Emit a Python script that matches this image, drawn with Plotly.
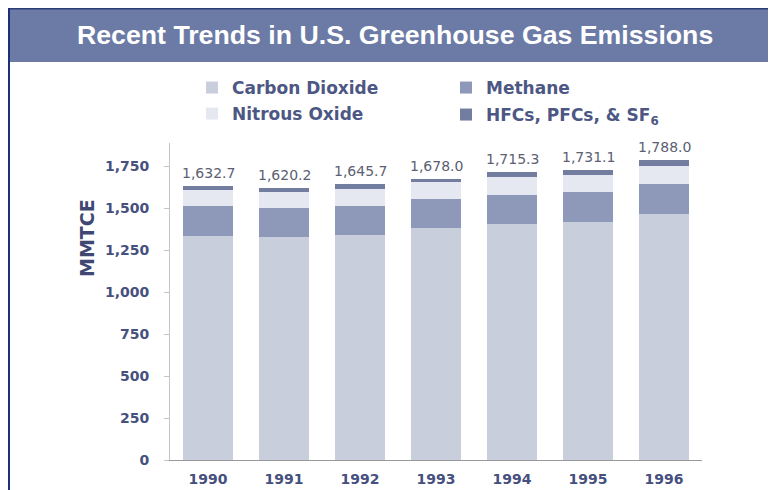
import plotly.graph_objects as go

years = ["1990", "1991", "1992", "1993", "1994", "1995", "1996"]
co2 = [1338, 1327, 1340, 1385, 1408, 1420, 1468]
methane = [174, 175, 174, 170, 170, 175, 176]
nitrous = [96, 96, 100, 101, 107, 103, 108]
hfcs = [24.7, 22.2, 31.7, 22.0, 30.3, 33.1, 36.0]
totals = [1632.7, 1620.2, 1645.7, 1678.0, 1715.3, 1731.1, 1788.0]
total_labels = ["1,632.7", "1,620.2", "1,645.7", "1,678.0", "1,715.3", "1,731.1", "1,788.0"]
y_ticks = [0, 250, 500, 750, 1000, 1250, 1500, 1750]

# page has an 8px body margin: work in screen pixels, convert to figure pixels
OFF = 8
W, H = 776 - OFF, 490 - OFF
L, R, T, B = 170 - OFF, 776 - 702, 143 - OFF, 490 - 460
PW, PH = W - L - R, H - T - B


def px(x):
    return (x - OFF - L) / PW


def py(y):
    return (H - B - (y - OFF)) / PH


legend_font = dict(family="DejaVu Sans", size=17, color="#4d5784", weight="bold")

specs = [
    (co2, "Carbon Dioxide", "#c9cedd", "legend"),
    (methane, "Methane", "#8e98b9", "legend2"),
    (nitrous, "Nitrous Oxide", "#e6e8f1", "legend3"),
    (hfcs, "HFCs, PFCs, &amp; SF<sub>6</sub>", "#737d9f", "legend4"),
]

fig = go.Figure()
for vals, name, col, lg in specs:
    fig.add_trace(go.Bar(x=years, y=vals, name=name, marker_color=col,
                         marker_line_width=0, legend=lg, showlegend=True))

# category axis: annotations placed by category index
for i, (tot, lab) in enumerate(zip(totals, total_labels)):
    fig.add_annotation(x=i, y=tot, text=lab, showarrow=False, yanchor="bottom", yshift=3,
                       font=dict(family="DejaVu Sans", size=14, color="#5b6072"))

fig.add_annotation(xref="paper", yref="paper", x=px(87), y=py(238), text="<b>MMTCE</b>",
                   textangle=-90, showarrow=False, xanchor="center", yanchor="middle",
                   font=dict(family="DejaVu Sans", size=19, color="#3f4872"))

fig.add_annotation(xref="paper", yref="paper", x=px(395), y=py(35),
                   text="<b>Recent Trends in U.S. Greenhouse Gas Emissions</b>",
                   showarrow=False, xanchor="center", yanchor="middle",
                   font=dict(family="Liberation Sans", size=26.7, color="white"))

fig.add_shape(type="rect", xref="paper", yref="paper", x0=px(8), x1=px(790), y0=py(62), y1=py(8),
              fillcolor="#6b7ba5", line_width=0, layer="below")
fig.add_shape(type="line", xref="paper", yref="paper", x0=px(8), x1=px(790), y0=py(8.5), y1=py(8.5),
              line=dict(color="#2a3d77", width=2))
fig.add_shape(type="line", xref="paper", yref="paper", x0=px(9), x1=px(9), y0=py(8), y1=py(500),
              line=dict(color="#1c2f78", width=2))


def legend_box(x, y):
    return dict(x=px(x), y=py(y), xanchor="left", yanchor="middle", orientation="v",
                font=legend_font, bgcolor="rgba(0,0,0,0)", itemwidth=30, visible=True)


fig.update_layout(
    width=W, height=H,
    margin=dict(l=L, r=R, t=T, b=B, autoexpand=False),
    barmode="stack", bargap=0.355,
    showlegend=True,
    plot_bgcolor="white", paper_bgcolor="white",
    legend=legend_box(192, 88),
    legend2=legend_box(446, 88),
    legend3=legend_box(192, 114),
    legend4=legend_box(446, 115),
    xaxis=dict(type="category", range=[-0.5, 6.5], showline=True, linecolor="#9a9a9a",
               linewidth=1, ticks="", ticklabelstandoff=6,
               tickfont=dict(family="DejaVu Sans", size=14, color="#46507e", weight="bold"),
               showgrid=False),
    yaxis=dict(range=[0, 1890], tickvals=y_ticks, tickformat=",d", showline=True,
               linecolor="#c4c4c4", linewidth=1, ticks="outside", ticklen=5, tickcolor="#c4c4c4",
               ticklabelstandoff=12,
               tickfont=dict(family="DejaVu Sans", size=14, color="#46507e", weight="bold"),
               showgrid=False, zeroline=False),
)

fig.write_html("out.html")
